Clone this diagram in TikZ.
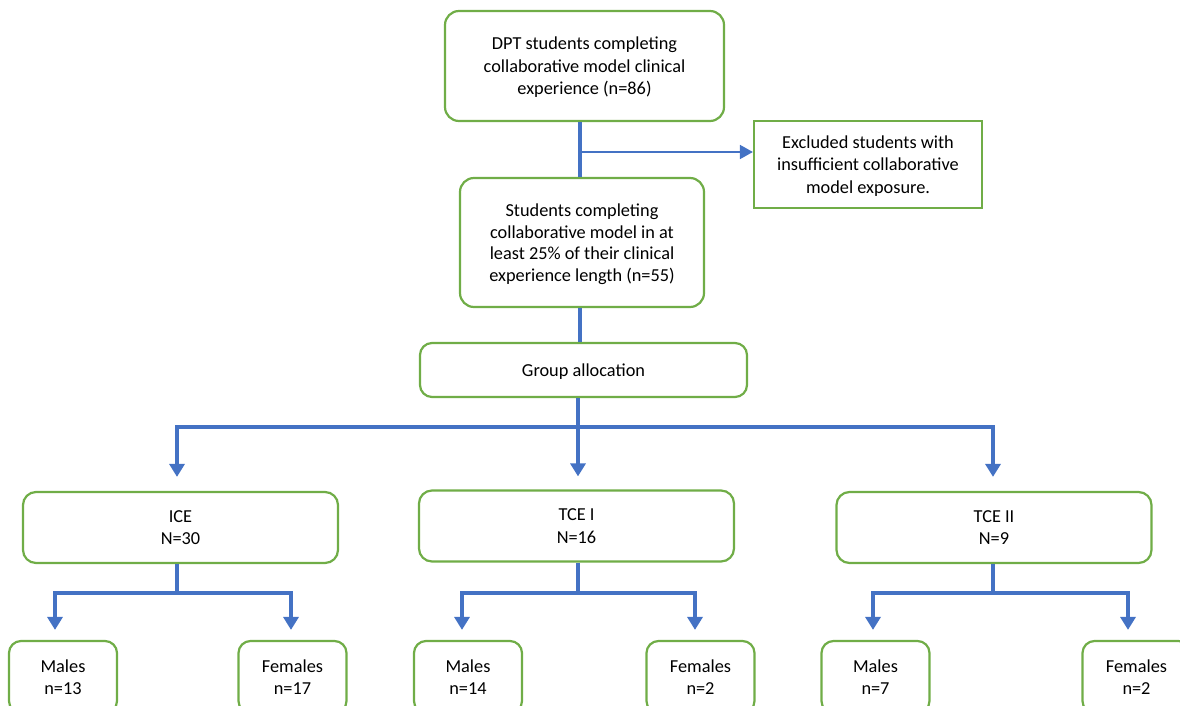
\documentclass[tikz,border=0pt]{standalone}
\usepackage{fontspec}
\setmainfont{Carlito}
\usetikzlibrary{arrows.meta}
\definecolor{gbor}{RGB}{112,173,71}
\definecolor{bline}{RGB}{68,114,196}
\begin{document}
\begin{tikzpicture}[x=1pt,y=-1pt,
  txt/.style={font=\fontsize{18.3}{22.4}\selectfont, text depth=0pt},
  rbox/.style={draw=gbor, line width=2.2pt, rounded corners=14pt, fill=white, align=center, inner sep=0pt, txt},
  sbox/.style={draw=gbor, line width=2.2pt, fill=white, align=center, inner sep=0pt, txt},
  small/.style={rbox, rounded corners=12pt, minimum width=108pt, minimum height=72pt},
  mid/.style={rbox, rounded corners=13pt, minimum width=315pt, minimum height=71pt},
  conn/.style={draw=bline, line width=3.6pt},
  arr/.style={-{Triangle[length=13pt,width=15pt]}}
]
\useasboundingbox (0,0) rectangle (1180,706);
\clip (0,0) rectangle (1180,706);

% nodes
\node[rbox, minimum width=279pt, minimum height=110pt] (top) at (584.5,66)
  {DPT students completing\\collaborative model clinical\\experience (n=86)};
\node[sbox, minimum width=228pt, minimum height=87pt] (excl) at (868,164.5)
  {Excluded students with\\insufficient collaborative\\model exposure.};
\node[rbox, minimum width=244pt, minimum height=129pt, font=\fontsize{18.3}{21.5}\selectfont] (stud) at (582,242.5)
  {Students completing\\collaborative model in at\\least 25\% of their clinical\\experience length (n=55)};
\node[rbox, rounded corners=12pt, minimum width=327pt, minimum height=54pt] (grp) at (583.5,370) {Group allocation};

\node[mid] (ice) at (180.5,527.5) {ICE\\N=30};
\node[mid] (tce1) at (576.5,526) {TCE I\\N=16};
\node[mid] (tce2) at (994,527.5) {TCE II\\N=9};

\node[small] (m1) at (63,677) {Males\\n=13};
\node[small] (f1) at (292.5,677) {Females\\n=17};
\node[small] (m2) at (468,677) {Males\\n=14};
\node[small] (f2) at (700.5,677) {Females\\n=2};
\node[small] (m3) at (875.5,677) {Males\\n=7};
\node[small] (f3) at (1136.5,677) {Females\\n=2};

% connectors: top part
\coordinate (j) at (580,152);
\draw[conn] (j |- top.south) -- (j |- stud.north);
\draw[bline, line width=1.8pt, -{Triangle[length=13pt,width=14pt]}] (j) -- (j -| excl.west);
\draw[conn] (j |- stud.south) -- (j |- grp.north);

% group split
\coordinate (g) at (578,427);
\coordinate (b1) at (177,427);
\coordinate (b3) at (993,427);
\draw[conn, arr, shorten >=13pt] (g |- grp.south) -- (g |- tce1.north);
\draw[conn, arr, shorten >=14pt] (g) -- (b1) -- (b1 |- ice.north);
\draw[conn, arr, shorten >=14pt] (g) -- (b3) -- (b3 |- tce2.north);

% ICE split
\coordinate (i0) at (177,593);
\coordinate (i1) at (55,593);
\coordinate (i2) at (291,593);
\draw[conn] (i0 |- ice.south) -- (i0);
\draw[conn, arr, shorten >=10pt] (i0) -- (i1) -- (i1 |- m1.north);
\draw[conn, arr, shorten >=10pt] (i0) -- (i2) -- (i2 |- f1.north);

% TCE I split
\coordinate (t0) at (578,593);
\coordinate (t1) at (462,593);
\coordinate (t2) at (695,593);
\draw[conn] (t0 |- tce1.south) -- (t0);
\draw[conn, arr, shorten >=10pt] (t0) -- (t1) -- (t1 |- m2.north);
\draw[conn, arr, shorten >=10pt] (t0) -- (t2) -- (t2 |- f2.north);

% TCE II split
\coordinate (u0) at (993,593);
\coordinate (u1) at (873,593);
\coordinate (u2) at (1128,593);
\draw[conn] (u0 |- tce2.south) -- (u0);
\draw[conn, arr, shorten >=10pt] (u0) -- (u1) -- (u1 |- m3.north);
\draw[conn, arr, shorten >=10pt] (u0) -- (u2) -- (u2 |- f3.north);
\end{tikzpicture}
\end{document}
